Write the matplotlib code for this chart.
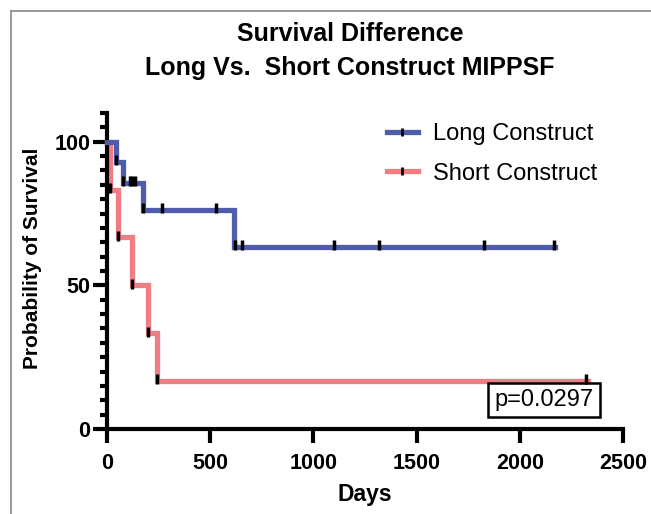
import numpy as np
import matplotlib.pyplot as plt
from matplotlib.lines import Line2D
from matplotlib.patches import Rectangle

plt.rcParams['font.family'] = ['Liberation Sans', 'DejaVu Sans']

# Kaplan-Meier step data (days, % surviving)
long_t = [0, 42, 79, 176, 616, 2170]
long_s = [100, 92.9, 85.7, 76.2, 63.5, 63.5]
long_marks = [42, 79, 112, 123, 136, 176, 265, 527, 620, 654, 1102, 1317, 1825, 2165]

short_t = [0, 13, 55, 123, 200, 244, 2330]
short_s = [100, 83.3, 66.7, 50, 33.3, 16.7, 16.7]
short_marks = [13, 55, 123, 200, 244, 2320]

x_ticks = [0, 500, 1000, 1500, 2000, 2500]
y_ticks = [0, 50, 100]

BLUE = '#4f5cab'
RED = '#f07c84'


def surv_at(times, surv, t):
    i = np.searchsorted(times, t, side='right') - 1
    return np.asarray(surv)[i]


fig = plt.figure(figsize=(6.51, 5.14), dpi=100)
ax = fig.add_axes([107 / 651, 85 / 514, 516 / 651, 316 / 514])

for t, s, m, c, z in [(short_t, short_s, short_marks, RED, 2),
                      (long_t, long_s, long_marks, BLUE, 3)]:
    ax.step(t, s, where='post', color=c, lw=3.8, clip_on=False, zorder=z,
            solid_joinstyle='miter')
    ax.plot(m, surv_at(t, s, m) + 0.6, ls='none', marker='|', ms=7, mew=2.5,
            color='black', clip_on=False, zorder=4)

ax.set_xlim(0, 2500)
ax.set_ylim(0, 110)
ax.set_xticks(x_ticks)
ax.set_yticks(y_ticks)
ax.set_yticks(np.arange(0, 111, 5), minor=True)
for sp in ['top', 'right']:
    ax.spines[sp].set_visible(False)
for sp in ['left', 'bottom']:
    ax.spines[sp].set_linewidth(3)
ax.tick_params(which='major', length=10, width=3, labelsize=15.5)
ax.tick_params(axis='x', pad=7)
ax.tick_params(axis='y', pad=2)
ax.tick_params(axis='y', which='minor', length=5, width=3)
for lab in ax.get_xticklabels() + ax.get_yticklabels():
    lab.set_fontweight('bold')

fig.text(365 / 651, 1 - 495 / 514, 'Days', ha='center', va='center',
         fontsize=16.5, fontweight='bold')
fig.text(33 / 651, 1 - 258 / 514, 'Probability of Survival', rotation=90,
         ha='center', va='center', fontsize=15, fontweight='bold')

fig.text(350 / 651, 1 - 34 / 514, 'Survival Difference', ha='center',
         va='center', fontsize=18, fontweight='bold')
fig.text(350 / 651, 1 - 68 / 514, 'Long Vs.  Short Construct MIPPSF',
         ha='center', va='center', fontsize=18, fontweight='bold')

handles = [Line2D([], [], color=BLUE, lw=3.8, marker='|', ms=6, mew=2,
                  mec='black'),
           Line2D([], [], color=RED, lw=3.8, marker='|', ms=6, mew=2,
                  mec='black')]
fig.legend(handles, ['Long Construct', 'Short Construct'], loc='upper left',
           bbox_to_anchor=(387 / 651, 1 - 123 / 514), frameon=False,
           fontsize=17, handlelength=1.3, handletextpad=0.65,
           labelspacing=0.75, borderpad=0, borderaxespad=0, numpoints=1)

fig.patches.append(Rectangle((488 / 651, 1 - 417 / 514), 112 / 651, 34 / 514,
                             transform=fig.transFigure, fill=False,
                             edgecolor='black', lw=1.8))
fig.text(544 / 651, 1 - 400 / 514, 'p=0.0297', ha='center', va='center',
         fontsize=17)

# grey frame edges from the source page
fig.add_artist(Line2D([11 / 651, 1], [1 - 11 / 514, 1 - 11 / 514],
                      color='#888888', lw=1.2, transform=fig.transFigure))
fig.add_artist(Line2D([11 / 651, 11 / 651], [0, 1 - 11 / 514],
                      color='#888888', lw=1.2, transform=fig.transFigure))

fig.savefig('out.png', dpi=100)
